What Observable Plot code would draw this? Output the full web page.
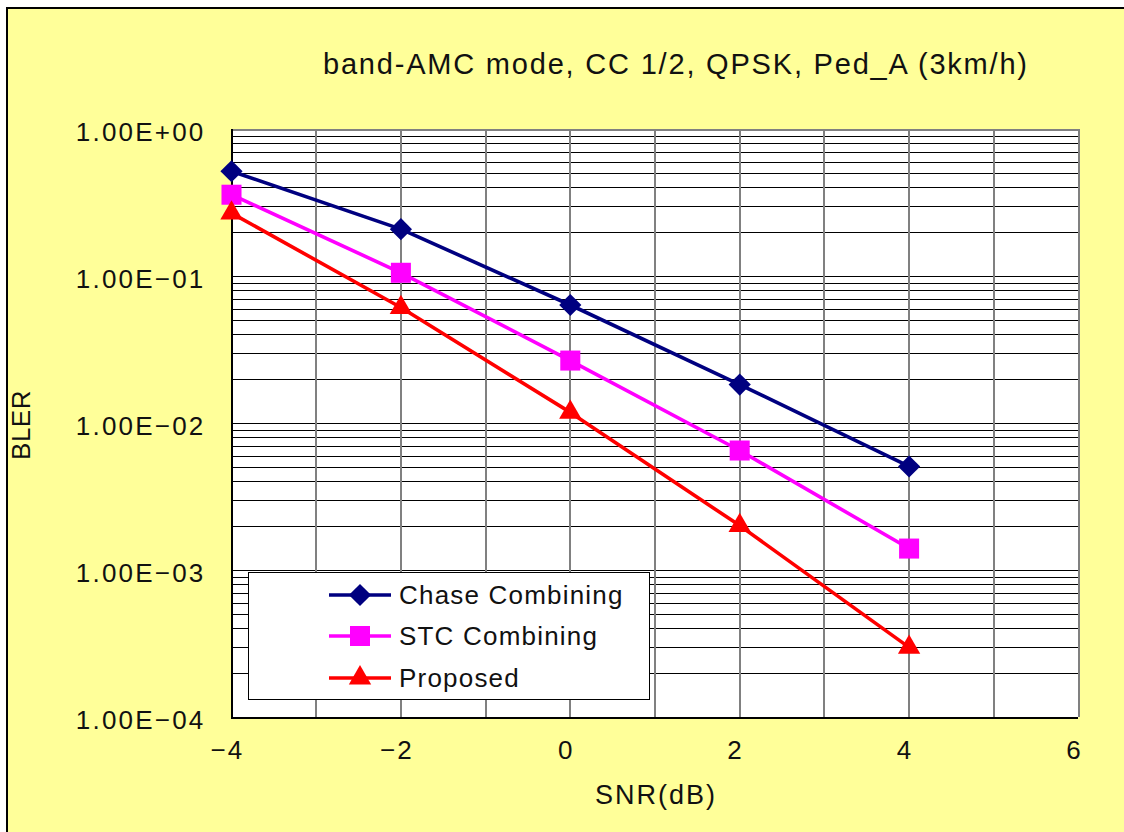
<!DOCTYPE html>
<html>
<head>
<meta charset="utf-8">
<script src="https://cdn.jsdelivr.net/npm/d3@7"></script>
<script src="https://cdn.jsdelivr.net/npm/@observablehq/plot@0.6"></script>
<style>
  html, body { margin: 0; padding: 0; background: #ffffff; }
  #wrap { position: relative; width: 1124px; height: 832px; overflow: hidden; background: #ffffff; font-family: "Liberation Sans", Arial, sans-serif; }
  #bg { position: absolute; left: 6px; top: 7px; width: 1140px; height: 850px; background: #ffff99; border-left: 2px solid #000; border-top: 2px solid #000; }
  #chart { position: absolute; left: 0; top: 0; }
  .txt { position: absolute; color: #111; white-space: nowrap; }
  #title { left: 323px; top: 48px; font-size: 29px; letter-spacing: 1.8px; }
  #xlabel { left: 595px; top: 780px; font-size: 27px; letter-spacing: 2px; }
  #ylabel { left: 21px; top: 425px; font-size: 26px; letter-spacing: 0.5px; transform: translate(-50%, -50%) rotate(-90deg); }
  #legend { position: absolute; left: 248px; top: 572px; width: 400px; height: 126px; background: #fff; border: 1.5px solid #000; }
  .row { position: absolute; left: 80px; height: 30px; display: flex; align-items: center; font-size: 26px; letter-spacing: 1.2px; color: #111; }
  .row svg { margin-right: 8px; }
  #chart svg line, #chart svg [aria-label^="rule"] { shape-rendering: crispEdges; }
</style>
</head>
<body>
<div id="wrap">
  <div id="bg"></div>
  <div id="chart"></div>
  <div class="txt" id="title">band-AMC mode, CC 1/2, QPSK, Ped_A (3km/h)</div>
  <div class="txt" id="xlabel">SNR(dB)</div>
  <div class="txt" id="ylabel">BLER</div>
  <div id="legend"></div>
</div>
<script>
// ---- data ----
const snr = [-4, -2, 0, 2, 4];
const chase = [0.52, 0.21, 0.064, 0.0184, 0.0051];
const stc = [0.36, 0.106, 0.0268, 0.00655, 0.00141];
const proposed = [0.27, 0.0615, 0.0119, 0.00202, 0.0003];
const seriesNames = ["Chase Combining", "STC Combining", "Proposed"];
const seriesColors = ["#000080", "#ff00ff", "#ff0000"];
const seriesSymbols = ["diamond2", "square", "triangle"];
const seriesR = [10, 11.3, 8.3];
const xTicks = [-4, -2, 0, 2, 4, 6];
const xTickLabels = ["−4", "−2", "0", "2", "4", "6"];
const yTicks = [1, 0.1, 0.01, 0.001, 0.0001];
const yTickLabels = ["1.00E+00", "1.00E−01", "1.00E−02", "1.00E−03", "1.00E−04"];
const xGrid = [-3, -2, -1, 0, 1, 2, 3, 4, 5];

const seriesValues = [chase, stc, proposed];
const rows = [];
seriesNames.forEach((name, i) => {
  snr.forEach((x, j) => rows.push({series: name, snr: x, bler: seriesValues[i][j]}));
});
// grid values for the log axis (1..9 per decade)
const yGrid = [];
for (let e = -4; e < 0; e++) for (let m = 1; m <= 9; m++) yGrid.push(m * Math.pow(10, e));

const marks = [
  Plot.frame({fill: "white", stroke: null}),
  Plot.ruleY(yGrid, {stroke: "#000", strokeWidth: 1}),
  Plot.ruleX(xGrid, {stroke: "#808080", strokeWidth: 2}),
  Plot.ruleY([1], {stroke: "#808080", strokeWidth: 2}),
  Plot.ruleX([6], {stroke: "#808080", strokeWidth: 2}),
  Plot.ruleX([-4], {stroke: "#000", strokeWidth: 2}),
  Plot.ruleY([0.0001], {stroke: "#000", strokeWidth: 2}),
];
seriesNames.forEach((name, i) => {
  const d = rows.filter(r => r.series === name);
  marks.push(Plot.line(d, {x: "snr", y: "bler", stroke: seriesColors[i], strokeWidth: 3.6}));
});
seriesNames.forEach((name, i) => {
  const d = rows.filter(r => r.series === name);
  marks.push(Plot.dot(d, {x: "snr", y: "bler", fill: seriesColors[i], stroke: "none", symbol: seriesSymbols[i], r: seriesR[i]}));
});
marks.push(
  Plot.axisY(yTicks, {tickFormat: d => yTickLabels[yTicks.indexOf(d)], tickSize: 0, tickPadding: 26, fontSize: 26, dy: 3, label: null, fill: "#111"}),
  Plot.axisX(xTicks, {tickFormat: d => xTickLabels[xTicks.indexOf(d)], tickSize: 0, tickPadding: 23, fontSize: 26, dx: -4, label: null, fill: "#111"})
);

const chart = Plot.plot({
  width: 1124,
  height: 832,
  marginLeft: 231,
  marginRight: 46,
  marginTop: 129,
  marginBottom: 115,
  style: {background: "transparent", fontFamily: "'Liberation Sans', Arial, sans-serif", letterSpacing: "2.2px", overflow: "visible"},
  x: {domain: [-4, 6]},
  y: {type: "log", domain: [0.0001, 1]},
  marks
});
chart.querySelectorAll('g[aria-label="rule"]').forEach(g => g.setAttribute("shape-rendering", "crispEdges"));
document.getElementById("chart").appendChild(chart);

// ---- legend ----
const legend = document.getElementById("legend");
const rowTops = [7, 48, 90];
seriesNames.forEach((name, i) => {
  const row = document.createElement("div");
  row.className = "row";
  row.style.top = rowTops[i] + "px";
  const size = Math.PI * seriesR[i] * seriesR[i];
  const symMap = {diamond2: d3.symbolDiamond2, square: d3.symbolSquare, triangle: d3.symbolTriangle};
  const path = d3.symbol(symMap[seriesSymbols[i]], size)();
  row.innerHTML = `<svg width="62" height="30" viewBox="0 0 62 30">
    <line x1="0" x2="62" y1="15" y2="15" stroke="${seriesColors[i]}" stroke-width="3.6"/>
    <path d="${path}" transform="translate(31,15)" fill="${seriesColors[i]}"/>
  </svg><span>${name}</span>`;
  legend.appendChild(row);
});
</script>
</body>
</html>
